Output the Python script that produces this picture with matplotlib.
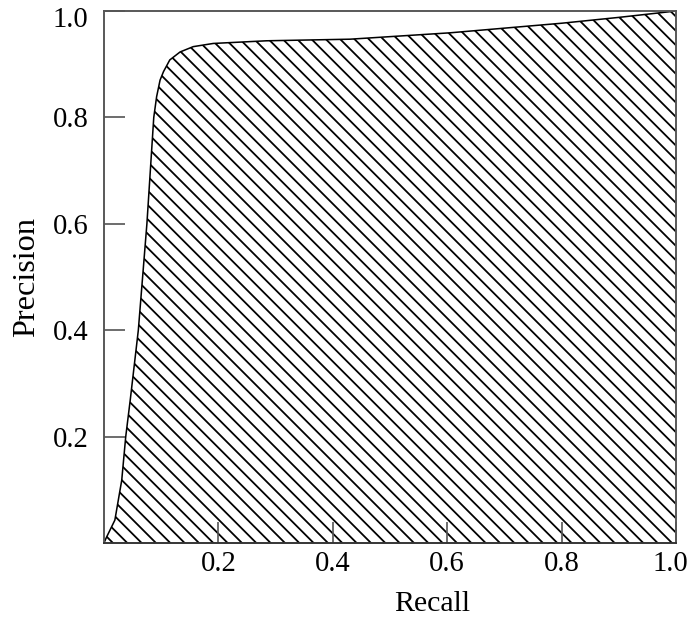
import matplotlib.pyplot as plt
from matplotlib.transforms import ScaledTranslation

# values
recall = [0.0, 0.004, 0.019, 0.031, 0.038, 0.046, 0.060, 0.075, 0.087, 0.092, 0.098,
          0.104, 0.115, 0.133, 0.156, 0.191, 0.284, 0.43, 0.605, 0.8, 0.9, 1.0]
precision = [0.0, 0.010, 0.043, 0.118, 0.200, 0.270, 0.400, 0.600, 0.800, 0.839, 0.870,
             0.886, 0.908, 0.923, 0.933, 0.939, 0.944, 0.947, 0.959, 0.977, 0.988, 1.0]
tick_vals = [0.2, 0.4, 0.6, 0.8, 1.0]
tick_labels = ['0.2', '0.4', '0.6', '0.8', '1.0']

plt.rcParams['font.family'] = ['Liberation Serif', 'DejaVu Serif']
plt.rcParams['hatch.linewidth'] = 1.5

DPI = 86
fig = plt.figure(figsize=(689 / DPI, 619 / DPI), dpi=DPI)
ax = fig.add_axes([104 / 689, 1 - 543 / 619, 572 / 689, 532 / 619])

ax.fill_between(recall, precision, 0, facecolor='white', edgecolor='black',
                hatch='\\\\', linewidth=0)
ax.plot(recall, precision, color='black', linewidth=1.3)

ax.set_xlim(0, 1)
ax.set_ylim(0, 1)
ax.set_xticks(tick_vals)
ax.set_xticklabels(tick_labels)
ax.set_yticks(tick_vals)
ax.set_yticklabels(tick_labels)
ax.tick_params(direction='in', length=17.5, width=1.4, color='#555555',
               labelsize=24, labelcolor='black')
ax.tick_params(axis='x', pad=7)
ax.tick_params(axis='y', pad=13)

# the last labels sit a little inside the corner in the reference
xl = ax.get_xticklabels()[-1]
xl.set_transform(xl.get_transform() + ScaledTranslation(-6 / DPI, 0, fig.dpi_scale_trans))
yl = ax.get_yticklabels()[-1]
yl.set_transform(yl.get_transform() + ScaledTranslation(0, -6 / DPI, fig.dpi_scale_trans))

for s in ax.spines.values():
    s.set_color('#555555')
    s.set_linewidth(1.6)
ax.spines['bottom'].set_color('#333333')

ax.set_xlabel('Recall', fontsize=25, va='center')
ax.xaxis.set_label_coords(0.573, -0.115)
ax.set_ylabel('Precision', fontsize=27, va='center')
ax.yaxis.set_label_coords(-0.136, 0.5)

fig.savefig('out.png', dpi=DPI)
